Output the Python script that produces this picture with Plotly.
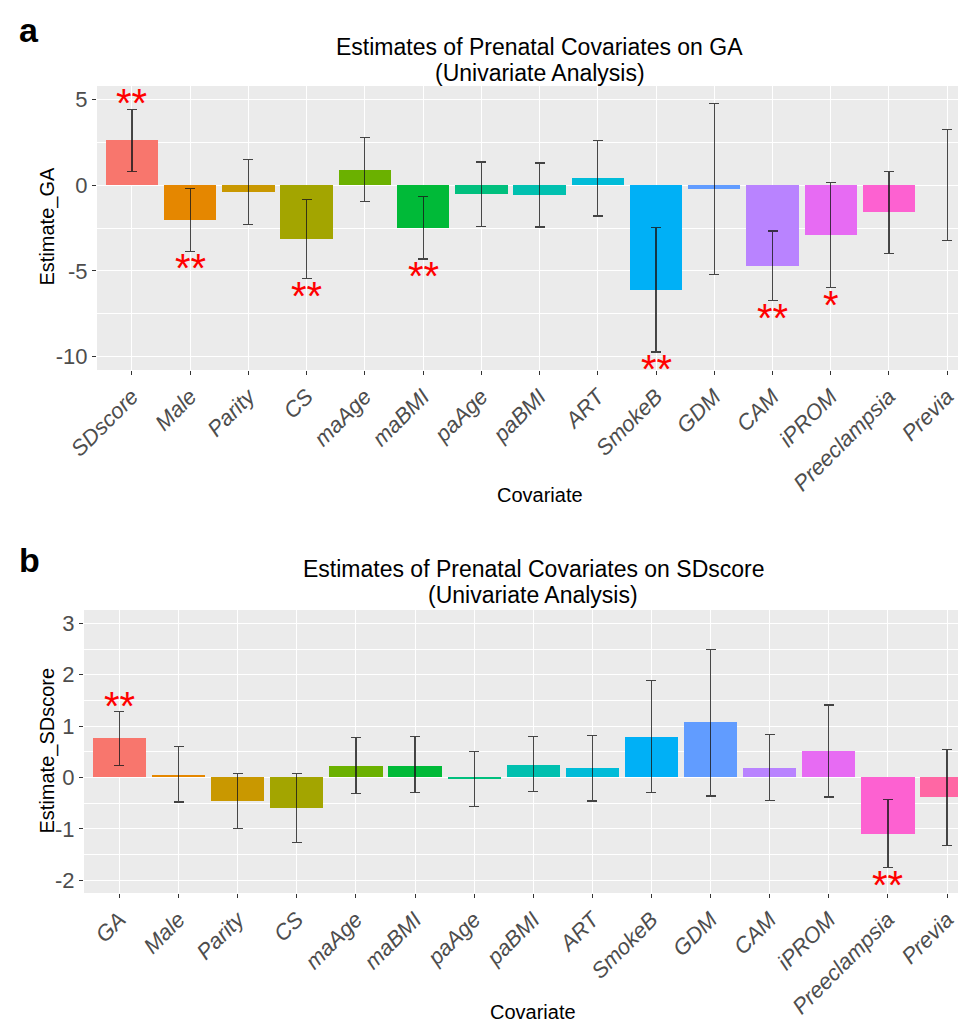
import plotly.graph_objects as go

# ---------------- data ----------------
cats_a = ["SDscore", "Male", "Parity", "CS", "maAge", "maBMI", "paAge", "paBMI",
          "ART", "SmokeB", "GDM", "CAM", "iPROM", "Preeclampsia", "Previa"]
est_a = [2.64, -2.00, -0.37, -3.12, 0.91, -2.47, -0.49, -0.55, 0.41, -6.09, -0.20, -4.71, -2.88, -1.58, 0.00]
lo_a = [0.83, -3.84, -2.30, -5.43, -0.94, -4.30, -2.38, -2.43, -1.79, -9.73, -5.20, -6.71, -5.98, -3.97, -3.23]
hi_a = [4.45, -0.20, 1.53, -0.84, 2.78, -0.66, 1.36, 1.30, 2.64, -2.47, 4.76, -2.67, 0.15, 0.79, 3.25]
sig_a = ["**", "**", "", "**", "", "**", "", "", "", "**", "", "**", "*", "", ""]

cats_b = ["GA", "Male", "Parity", "CS", "maAge", "maBMI", "paAge", "paBMI",
          "ART", "SmokeB", "GDM", "CAM", "iPROM", "Preeclampsia", "Previa"]
est_b = [0.76, 0.05, -0.46, -0.59, 0.22, 0.23, -0.02, 0.25, 0.18, 0.79, 1.07, 0.18, 0.51, -1.10, -0.38]
lo_b = [0.24, -0.48, -1.00, -1.26, -0.31, -0.29, -0.57, -0.28, -0.46, -0.30, -0.36, -0.45, -0.38, -1.76, -1.32]
hi_b = [1.28, 0.60, 0.08, 0.08, 0.77, 0.79, 0.51, 0.80, 0.82, 1.88, 2.49, 0.84, 1.41, -0.43, 0.55]
sig_b = ["**", "", "", "", "", "", "", "", "", "", "", "", "", "**", ""]

hue_colors = ["#F8766D", "#E58700", "#C99800", "#A3A500", "#6BB100", "#00BA38", "#00BF7D",
              "#00C0AF", "#00BCD8", "#00B0F6", "#619CFF", "#B983FF", "#E76BF3", "#FD61D1", "#FF67A4"]

title_a = ["Estimates of Prenatal Covariates on GA", "(Univariate Analysis)"]
title_b = ["Estimates of Prenatal Covariates on SDscore", "(Univariate Analysis)"]

# ---------------- layout helpers ----------------
W, H = 966, 1023
FONT = "Liberation Sans, Arial, sans-serif"


def X(px):
    return px / W


def Y(py):
    return 1 - py / H


fig = go.Figure()


def add_panel(n, cats, est, lo, hi, sig, yrange, dom_x, dom_y, major, minor_dt, minor0,
              ytitle, ytitle_y, xtitle_y, title, title_y, letter, letter_y, star_off, xmax):
    xa = "x" if n == 1 else f"x{n}"
    ya = "y" if n == 1 else f"y{n}"
    idx = list(range(len(cats)))
    fig.add_trace(go.Bar(
        x=idx, y=est, width=0.9, marker=dict(color=hue_colors, line=dict(width=0)),
        error_y=dict(type="data", symmetric=False,
                     array=[h - e for h, e in zip(hi, est)],
                     arrayminus=[e - l for e, l in zip(est, lo)],
                     color="rgba(25,25,25,0.8)", thickness=1.2, width=5),
        xaxis=xa, yaxis=ya, showlegend=False, hoverinfo="skip"))
    key = "" if n == 1 else str(n)
    fig.update_layout(**{
        f"xaxis{key}": dict(
            domain=dom_x, anchor=ya, range=[-0.6, xmax],
            tickmode="array", tickvals=idx, ticktext=cats, tickangle=-45,
            tickfont=dict(family=FONT, size=22, color="#4D4D4D", style="italic"),
            ticks="outside", ticklen=4, tickcolor="#333333", tickwidth=1,
            showgrid=True, gridcolor="white", gridwidth=1.1, zeroline=False,
            showline=False, automargin=False, fixedrange=True),
        f"yaxis{key}": dict(
            domain=dom_y, anchor=xa, range=yrange,
            tickmode="array", tickvals=major, ticktext=[str(v) for v in major],
            tickfont=dict(family=FONT, size=22, color="#4D4D4D"),
            ticks="outside", ticklen=4, tickcolor="#333333", tickwidth=1,
            showgrid=True, gridcolor="white", gridwidth=1.1, zeroline=False,
            minor=dict(dtick=minor_dt, tick0=minor0, showgrid=True, gridcolor="white",
                       gridwidth=0.5, ticks=""),
            showline=False, automargin=False, fixedrange=True),
    })
    # significance stars
    span = yrange[1] - yrange[0]
    for i, s in enumerate(sig):
        if not s:
            continue
        above = est[i] > 0
        yv = hi[i] + star_off * span if above else lo[i] - star_off * span
        fig.add_annotation(x=i, y=yv, xref=xa, yref=ya, text=s, showarrow=False,
                           font=dict(family=FONT, size=40, color="#FF0000"),
                           xanchor="center", yanchor="middle", yshift=-4 if above else -7)
    cx = (dom_x[0] * W + 974) / 2
    # titles
    for line, ty in zip(title, title_y):
        fig.add_annotation(x=X(cx), y=Y(ty), xref="paper", yref="paper", text=line,
                           showarrow=False, font=dict(family=FONT, size=23, color="black"),
                           xanchor="center", yanchor="middle")
    # axis titles
    fig.add_annotation(x=X(cx), y=Y(xtitle_y), xref="paper", yref="paper", text="Covariate",
                       showarrow=False, font=dict(family=FONT, size=20, color="black"),
                       xanchor="center", yanchor="middle")
    fig.add_annotation(x=X(38.5), y=Y(ytitle_y), xref="paper", yref="paper", text=ytitle,
                       textangle=-90, showarrow=False,
                       font=dict(family=FONT, size=20, color="black"),
                       xanchor="center", yanchor="middle")
    # panel letter
    fig.add_annotation(x=X(21), y=Y(letter_y), xref="paper", yref="paper",
                       text="<b>" + letter + "</b>", showarrow=False,
                       font=dict(family=FONT, size=34, color="black"),
                       xanchor="center", yanchor="middle")


add_panel(1, cats_a, est_a, lo_a, hi_a, sig_a, [-10.78, 5.8],
          [X(89), 1.0], [Y(362), Y(78)], [5, 0, -5, -10], 5, 2.5,
          "Estimate_GA", 219, 487, title_a, (39, 65), "a", 22, 0.036, 14.46)
add_panel(2, cats_b, est_b, lo_b, hi_b, sig_b, [-2.25, 3.26],
          [X(76), 1.0], [Y(885), Y(602)], [3, 2, 1, 0, -1, -2], 1, 0.5,
          "Estimate_SDscore", 743, 1004, title_b, (561, 587), "b", 552, 0.036, 14.456)

fig.update_layout(
    width=W, height=H, margin=dict(l=0, r=0, t=0, b=0),
    paper_bgcolor="white", plot_bgcolor="#EBEBEB",
    font=dict(family=FONT), bargap=0, showlegend=False,
)

fig.write_html("out.html")
